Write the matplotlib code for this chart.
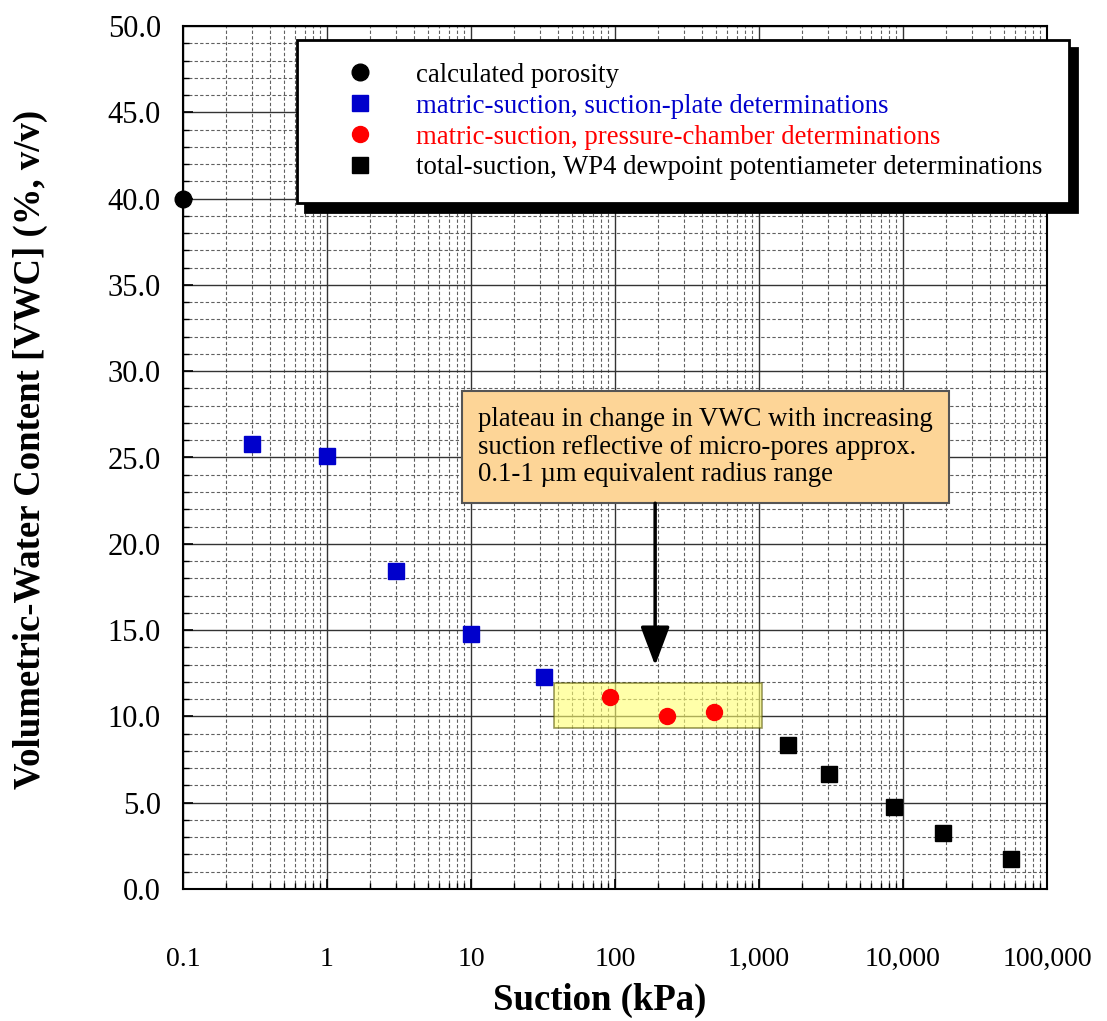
import numpy as np
import matplotlib.pyplot as plt
import matplotlib.ticker as mt
from matplotlib.patches import Rectangle

plt.rcParams['font.family'] = ['Liberation Serif', 'DejaVu Serif']

# data
poro_x = [0.1]
poro_y = [40.0]
plate_x = [0.3, 1.0, 3.0, 10.0, 32.0]
plate_y = [25.8, 25.1, 18.4, 14.8, 12.3]
chamber_x = [92.0, 230.0, 490.0]
chamber_y = [11.1, 10.0, 10.25]
wp4_x = [1590.0, 3060.0, 8670.0, 19000.0, 56000.0]
wp4_y = [8.35, 6.65, 4.75, 3.25, 1.75]

labels = ['calculated porosity',
          'matric-suction, suction-plate determinations',
          'matric-suction, pressure-chamber determinations',
          'total-suction, WP4 dewpoint potentiameter determinations']
note = ('plateau in change in VWC with increasing\n'
        'suction reflective of micro-pores approx.\n'
        '0.1-1 \u00b5m equivalent radius range')

blue = '#0000cc'
red = '#ff0000'

fig = plt.figure(figsize=(11.07, 10.21), dpi=100)
ax = fig.add_axes([183/1107, 1-889/1021, (1047-183)/1107, (889-26)/1021])

ax.set_xscale('log')
ax.set_xlim(0.1, 100000)
ax.set_ylim(0, 50)

# grid
ax.set_axisbelow(True)
ax.yaxis.set_major_locator(mt.MultipleLocator(5))
ax.yaxis.set_minor_locator(mt.MultipleLocator(1))
ax.xaxis.set_major_locator(mt.LogLocator(base=10, numticks=20))
ax.xaxis.set_minor_locator(mt.LogLocator(base=10, subs=np.arange(2, 10), numticks=20))
ax.grid(which='major', color='#333333', lw=1.0, ls='-')
ax.grid(which='minor', color='#606060', lw=0.8, ls=(0, (3, 2)))

ax.xaxis.set_major_formatter(mt.FuncFormatter(lambda v, p: '0.1' if v < 1 else f'{int(round(v)):,}'))
ax.yaxis.set_major_formatter(mt.FormatStrFormatter('%.1f'))
ax.tick_params(which='both', direction='in', colors='black')
ax.tick_params(axis='x', labelsize=20)
ax.tick_params(axis='y', labelsize=22)
ax.tick_params(which='major', length=7, width=1.2)
ax.tick_params(which='minor', length=4, width=1)
ax.tick_params(axis='x', which='major', pad=42)
ax.tick_params(axis='y', which='major', pad=16)
for s in ax.spines.values():
    s.set_linewidth(1.5)
    s.set_color('black')

# highlighted plateau
ax.add_patch(Rectangle((37.5, 9.35), 1050-37.5, 11.95-9.35, facecolor='#ffff70', alpha=0.6,
                       edgecolor='#555500', lw=1.2, zorder=2))

ms = 12
h1, = ax.plot(poro_x, poro_y, 'o', color='black', ms=ms, clip_on=False, zorder=5)
h2, = ax.plot(plate_x, plate_y, 's', color=blue, ms=ms, clip_on=False, zorder=5)
h3, = ax.plot(chamber_x, chamber_y, 'o', color=red, ms=ms-0.5, clip_on=False, zorder=5)
h4, = ax.plot(wp4_x, wp4_y, 's', color='black', ms=ms, clip_on=False, zorder=5)

# annotation box + arrow
ax.text((478-183)/864, (889-407)/863, note, transform=ax.transAxes, ha='left', va='top',
        fontsize=19.3, linespacing=1.14, zorder=6,
        bbox=dict(boxstyle='square,pad=0.6', fc='#fdd597', ec='#555555', lw=1.5))
ax.annotate('', xy=(190, 12.95), xytext=(190, 22.35),
            arrowprops=dict(arrowstyle='-|>,head_length=1.2,head_width=0.45', mutation_scale=20,
                            color='black', lw=2.5, shrinkA=0, shrinkB=0), zorder=6)

leg = fig.legend([h1, h2, h3, h4], labels, loc='upper left',
                 bbox_to_anchor=(297/1107, 1-40/1021-0.3, (1069-297)/1107, 0.3), mode='expand',
                 fontsize=19.3, markerscale=1.0, handlelength=3.0, handletextpad=0.6,
                 borderpad=0.85, labelspacing=0.22, borderaxespad=0, fancybox=False,
                 edgecolor='black', framealpha=1, labelcolor=['black', blue, red, 'black'],
                 shadow={'ox': 6, 'oy': -6, 'color': 'black', 'alpha': 1})
leg.get_frame().set_linewidth(2)
leg.set_zorder(10)

fig.text(600/1107, 1-1000/1021, 'Suction (kPa)', ha='center', va='center',
         fontsize=26.5, fontweight='bold')
fig.text(30/1107, 1-449/1021, 'Volumetric-Water Content [VWC] (%, v/v)', ha='center', va='center',
         rotation=90, fontsize=26.5, fontweight='bold')

fig.savefig('out.png', dpi=100)
